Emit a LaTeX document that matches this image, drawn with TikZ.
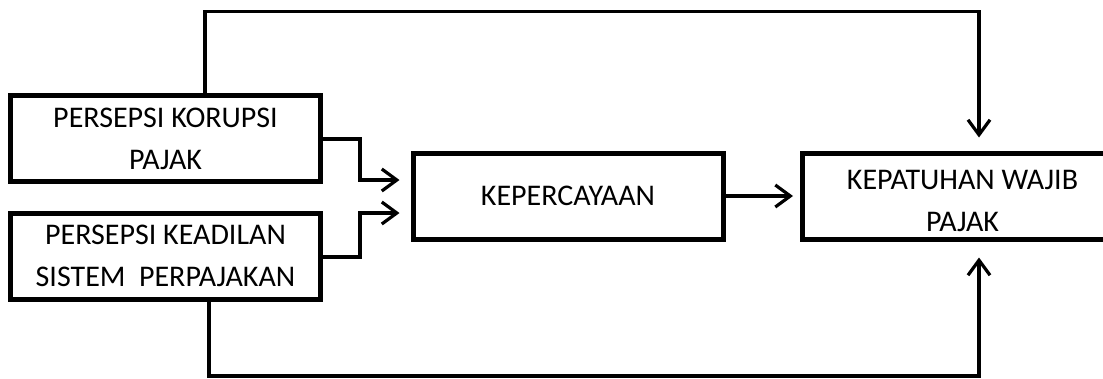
\documentclass[tikz,border=0pt]{standalone}
\usepackage{fontspec}
\setmainfont{Carlito}
\usetikzlibrary{arrows.meta}

\begin{document}
\begin{tikzpicture}[x=1pt, y=-1pt,
    box/.style={rectangle, draw, line width=5pt, minimum width=310pt, minimum height=86pt,
        inner sep=0pt, align=center, font=\fontsize{30}{42}\selectfont},
    link/.style={line width=3.2pt, line join=miter},
    arrow/.style={link, -{Straight Barb[length=15pt, width=22pt]}}]

    \useasboundingbox (0,0) rectangle (1103,378);

    \node[box] (1) at (165.5,138.5) {PERSEPSI KORUPSI\\PAJAK};

    \node[box] (2) at (165.5,256) {PERSEPSI KEADILAN\\SISTEM\ \ PERPAJAKAN};

    \node[box] (3) at (568,196) {KEPERCAYAAN};

    \node[box, minimum width=320pt] (4) at (962.5,196) {\rule{0pt}{30pt}KEPATUHAN WAJIB\\PAJAK};

    % bends of the connectors
    \coordinate (k1) at (360,139);
    \coordinate (k2) at (360,257);
    \coordinate (t1) at (205,11.5);
    \coordinate (t2) at (979,11.5);
    \coordinate (b1) at (209,376);
    \coordinate (b2) at (979,376);

    \draw[arrow, shorten >=11pt] (k1 -| 1.east) -- (k1) |- ([yshift=16pt]3.west);
    \draw[arrow, shorten >=11pt] (k2 -| 2.east) -- (k2) |- ([yshift=-17pt]3.west);

    \draw[arrow, shorten >=7pt] (3) -- (4);

    \draw[arrow, shorten >=13pt] (t1 |- 1.north) -- (t1) -- (t2) -- (t2 |- 4.north);
    \draw[arrow, shorten >=16pt] (b1 |- 2.south) -- (b1) -- (b2) -- (b2 |- 4.south);

\end{tikzpicture}
\end{document}
